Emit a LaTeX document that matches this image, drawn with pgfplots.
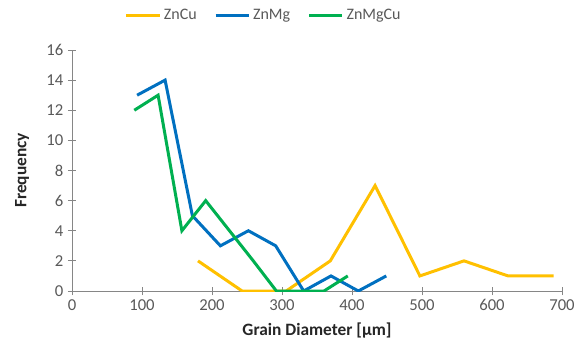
\documentclass[border=0pt]{standalone}
\usepackage{fontspec}
\setmainfont{Carlito}
\usepackage{pgfplots}
\pgfplotsset{compat=1.18}
\definecolor{cyel}{HTML}{FFC000}
\definecolor{cblu}{HTML}{0070C0}
\definecolor{cgrn}{HTML}{00B050}
\definecolor{axgray}{HTML}{868686}
\definecolor{txt}{HTML}{595959}
\begin{document}
\begin{tikzpicture}
\useasboundingbox (-54pt,-48pt) rectangle (386.25pt,218.25pt);
\begin{axis}[
  at={(0,0)}, anchor=south west,
  width=367.5pt, height=180.75pt, scale only axis,
  xmin=0, xmax=700, ymin=0, ymax=16,
  xtick={0,100,...,700}, ytick={0,2,...,16},
  axis x line*=bottom, axis y line*=left,
  axis line style={axgray, line width=0.6pt, -},
  tick style={axgray, line width=0.6pt},
  tick align=center, major tick length=6pt,
  tick label style={font=\fontsize{12.5}{14}\selectfont, text=txt},
  /pgf/number format/assume math mode=true,
  xlabel={\textbf{Grain Diameter [µm]}},
  ylabel={\textbf{Frequency}},
  label style={font=\fontsize{13}{15}\selectfont, text=black!85},
  xlabel style={at={(axis description cs:0.5,-0.162)}, anchor=center},
  ylabel style={at={(axis description cs:-0.102,0.5)}, anchor=center},
  legend columns=-1,
  legend style={at={(0.392,1)}, anchor=center, yshift=26pt, draw=none,
    font=\fontsize{12}{14}\selectfont, text=txt,
    /tikz/every even column/.append style={column sep=11pt}},
  legend image code/.code={\draw[#1, line width=2.25pt] (0pt,0pt) -- (25pt,0pt);},
  every axis plot/.append style={line width=2.25pt},
]
\addplot[cyel, mark=none] coordinates {
(180,2) (243,0) (306,0) (369,2) (433,7) (497,1) (560,2) (623,1) (688,1)};
\addlegendentry{ZnCu}
\addplot[cblu, mark=none] coordinates {
(93,13) (133,14) (172,5) (212,3) (252,4) (291,3) (331,0) (370,1) (409,0) (449,1)};
\addlegendentry{ZnMg}
\addplot[cgrn, mark=none] coordinates {
(89,12) (123,13) (157,4) (191,6) (225,4) (259,2) (292,0) (326,0) (360,0) (394,1)};
\addlegendentry{ZnMgCu}
\end{axis}
\end{tikzpicture}
\end{document}
